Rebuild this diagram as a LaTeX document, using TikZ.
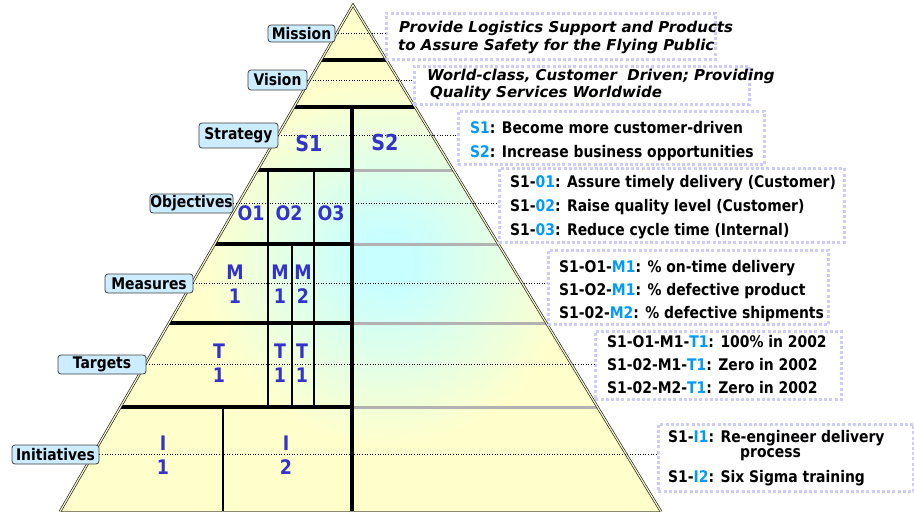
\documentclass[tikz,border=0pt]{standalone}
\usepackage{fontspec}
\setmainfont{DejaVu Sans}
\newfontfamily\tah{DejaVu Sans}[FakeStretch=0.87]
\definecolor{pyel}{HTML}{FFFFCC}
\definecolor{pcyan}{HTML}{C8FFFF}
\definecolor{lblue}{HTML}{CCECFF}
\definecolor{boxc}{HTML}{CCCCFF}
\definecolor{pblue}{HTML}{3333CC}
\definecolor{hl}{HTML}{0099FF}
\definecolor{gline}{HTML}{B2B2B2}
\definecolor{basec}{HTML}{8C8C6E}
\begin{document}
\begin{tikzpicture}[x=1pt,y=-1pt,
  lbl/.style={draw=black!75, fill=lblue, rounded corners=3pt, line width=0.8pt, inner sep=0pt,
    font=\tah\bfseries\fontsize{16}{18}\selectfont},
  rbox/.style={draw=boxc, line width=2.6pt, dash pattern=on 3pt off 2.2pt, inner sep=0pt, anchor=north west},
  rtxt/.style={anchor=base west, inner sep=0pt, font=\tah\bfseries\fontsize{16}{19}\selectfont},
  mtxt/.style={anchor=base west, inner sep=0pt, font=\bfseries\itshape\fontsize{15}{17}\selectfont},
  ptxt/.style={text=pblue, inner sep=0pt, align=center, font=\tah\bfseries\fontsize{20}{24}\selectfont},
  pbig/.style={text=pblue, inner sep=0pt, font=\tah\bfseries\fontsize{22}{24}\selectfont},
  conn/.style={dotted, line width=0.6pt, black},
  blk/.style={line width=3.3pt, black},
  gry/.style={line width=3pt, gline},
  vln/.style={line width=2.8pt, black}
]
\useasboundingbox (0,0) rectangle (914,514);
\coordinate (A) at (353,5);
\coordinate (BL) at (60,511.5);
\coordinate (BR) at (661,511.5);
% fill
\begin{scope}
  \clip (A)--(BL)--(BR)--cycle;
  \fill[pyel] (0,0) rectangle (914,514);
  \foreach \i in {40,39,...,1} {
    \pgfmathsetmacro\pc{max(0,min(100,140*\i/40-20))}
    \fill[pyel!\pc!pcyan] (388,262) circle[radius=5.4*\i];
  }
  % dividers
  \draw[blk] (0,60) -- (914,60);
  \draw[blk] (0,107) -- (914,107);
  \draw[blk] (0,170) -- (352,170);
  \draw[gry] (352,170) -- (914,170);
  \draw[blk] (0,244) -- (352,244);
  \draw[gry] (352,244) -- (914,244);
  \draw[blk] (0,323) -- (352,323);
  \draw[gry] (352,323) -- (914,323);
  \draw[blk] (0,407) -- (352,407);
  \draw[gry] (352,407) -- (914,407);
\end{scope}
% verticals
\draw[line width=4.3pt, black] (352,107) -- (352,511);
\draw[vln] (268,170) -- (268,407);
\draw[vln] (314,170) -- (314,407);
\draw[vln] (292,244) -- (292,407);
\draw[vln] (223,407) -- (223,511);
% edges
\draw[line width=1.5pt, basec] (BL) -- (BR);
\draw[line width=0.7pt, black!85, double=pyel, double distance=1.1pt] (BL) -- (A) -- (BR);
% right boxes
\node[rbox, minimum width=329, minimum height=46] (b1) at (385,12) {};
\node[rbox, minimum width=335, minimum height=38] (b2) at (413,65) {};
\node[rbox, minimum width=306, minimum height=53] (b3) at (457,110) {};
\node[rbox, minimum width=345, minimum height=74] (b4) at (498,167) {};
\node[rbox, minimum width=280, minimum height=74] (b5) at (547,249) {};
\node[rbox, minimum width=246, minimum height=68] (b6) at (594,330) {};
\node[rbox, minimum width=255, minimum height=67] (b7) at (657,423) {};
% labels
\node[lbl, minimum width=67, minimum height=17] (lmis) at (301.5,33.5) {Mission};
\node[lbl, minimum width=59, minimum height=20] (lvis) at (277.5,80) {Vision};
\node[lbl, minimum width=79, minimum height=25] (lstr) at (238.5,135.5) {Strategy};
\node[lbl, minimum width=83, minimum height=19] (lobj) at (191.5,203.5) {Objectives};
\node[lbl, minimum width=88, minimum height=19] (lmea) at (149,283.5) {Measures};
\node[lbl, minimum width=88, minimum height=19] (ltar) at (102,364.5) {Targets};
\node[lbl, minimum width=87, minimum height=19] (lini) at (55.5,454.5) {Initiatives};
% connectors
\draw[conn] (lmis.east) -- (lmis.east -| b1.west);
\draw[conn] (lvis.east) -- (lvis.east -| b2.west);
\draw[conn] (lstr.east) -- (lstr.east -| b3.west);
\draw[conn] (lobj.east) -- (lobj.east -| b4.west);
\draw[conn] (lmea.east) -- (lmea.east -| b5.west);
\draw[conn] (ltar.east) -- (ltar.east -| b6.west);
\draw[conn] (lini.east) -- (lini.east -| b7.west);
% pyramid texts
\node[pbig] (ps1) at (309,143) {S1};
\node[pbig] (ps2) at (385,142) {S2};
\node[ptxt] (po1) at (251,213) {O1};
\node[ptxt] (po2) at (289,213) {O2};
\node[ptxt] (po3) at (331,213) {O3};
\node[ptxt] (pm1) at (235,284) {M\\1};
\node[ptxt] (pm2) at (280,284) {M\\1};
\node[ptxt] (pm3) at (303,284) {M\\2};
\node[ptxt] (pt1) at (219,363) {T\\1};
\node[ptxt] (pt2) at (280,363) {T\\1};
\node[ptxt] (pt3) at (302,363) {T\\1};
\node[ptxt] (pi1) at (163,455) {I\\1};
\node[ptxt] (pi2) at (286,455) {I\\2};
% box texts
\node[mtxt] (t1a) at (399,32) {Provide Logistics Support and Products};
\node[mtxt] (t1b) at (398,50) {to Assure Safety for the Flying Public};
\node[mtxt] (t2a) at (427,80) {World-class, Customer~ Driven; Providing};
\node[mtxt] (t2b) at (430,97) {Quality Services Worldwide};
\node[rtxt] (t3a) at (470,133) {\textcolor{hl}{S1}: Become more customer-driven};
\node[rtxt] (t3b) at (470,157) {\textcolor{hl}{S2}: Increase business opportunities};
\node[rtxt] (t4a) at (510,187) {S1-\textcolor{hl}{01}: Assure timely delivery (Customer)};
\node[rtxt] (t4b) at (510,211) {S1-\textcolor{hl}{02}: Raise quality level (Customer)};
\node[rtxt] (t4c) at (510,235) {S1-\textcolor{hl}{03}: Reduce cycle time (Internal)};
\node[rtxt] (t5a) at (559,272) {S1-O1-\textcolor{hl}{M1}: \% on-time delivery};
\node[rtxt] (t5b) at (559,295) {S1-O2-\textcolor{hl}{M1}: \% defective product};
\node[rtxt] (t5c) at (559,318) {S1-02-\textcolor{hl}{M2}: \% defective shipments};
\node[rtxt] (t6a) at (607,347) {S1-O1-M1-\textcolor{hl}{T1}: 100\% in 2002};
\node[rtxt] (t6b) at (607,370) {S1-02-M1-\textcolor{hl}{T1}: Zero in 2002};
\node[rtxt] (t6c) at (607,393) {S1-02-M2-\textcolor{hl}{T1}: Zero in 2002};
\node[rtxt] (t7a) at (668,442) {S1-\textcolor{hl}{I1}: Re-engineer delivery};
\node[rtxt] (t7b) at (740,457) {process};
\node[rtxt] (t7c) at (668,482) {S1-\textcolor{hl}{I2}: Six Sigma training};
\end{tikzpicture}
\end{document}
